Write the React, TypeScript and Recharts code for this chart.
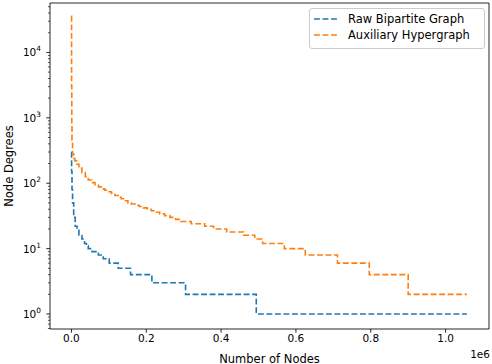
import React from 'react';
import { LineChart, Line, XAxis, YAxis, Legend, ReferenceArea } from 'recharts';

// sorted degree sequences, read as step starts (node rank -> degree)
const BLUE_NODES = [0, 500, 1500, 3000, 6000, 10000, 15000, 20000, 28000, 35000, 40000, 45000, 55000, 72000, 85000, 101000, 125000, 158000, 215000, 305000, 494000, 1057000];
const BLUE_DEGREES = [300, 150, 80, 50, 30, 22, 19, 16, 14, 12, 11, 10, 9, 8, 7, 6, 5, 4, 3, 2, 1, 1];

const ORANGE_NODES = [0, 400, 1000, 1500, 3000, 6000, 9000, 14000, 20000, 28000, 37000, 45000, 54000, 63000, 72000, 80000, 89000, 98000, 107000, 116000, 125000, 133000, 142000,
  151000, 160000, 170000, 181000, 192000, 203000, 213000, 224000, 236000, 249000, 263000, 278000, 292000, 320000, 356000, 380000, 415000, 460000, 490000,
  511000, 569000, 625000, 711000, 796000, 900000, 1057000];
const ORANGE_DEGREES = [36000, 3000, 800, 457, 280, 240, 220, 195, 170, 145, 126, 112, 102, 94, 88, 82, 78, 74, 70, 65, 61, 58, 54,
  50, 48, 46, 44, 42, 40, 38, 36, 34, 32, 30, 28, 26, 24, 22, 20, 18, 16, 14,
  12, 10, 8, 6, 4, 2, 2];

const X_TICKS = [0, 200000, 400000, 600000, 800000, 1000000];
const Y_MAJOR_TICKS = [1, 10, 100, 1000, 10000];
const Y_MINOR_TICKS = [0.6, 0.7, 0.8, 0.9, 2, 3, 4, 5, 6, 7, 8, 9, 20, 30, 40, 50, 60, 70, 80, 90,
  200, 300, 400, 500, 600, 700, 800, 900, 2000, 3000, 4000, 5000, 6000, 7000, 8000, 9000,
  20000, 30000, 40000, 50000];

const SERIES = [
  { name: 'Raw Bipartite Graph', color: '#1f77b4' },
  { name: 'Auxiliary Hypergraph', color: '#ff7f0e' },
];

const blueData = BLUE_NODES.map((x, i) => ({ x, y: BLUE_DEGREES[i] }));
const orangeData = ORANGE_NODES.map((x, i) => ({ x, y: ORANGE_DEGREES[i] }));

const FONT = '"DejaVu Sans", sans-serif';
const TICK_FS = 10.5;
const LABEL_FS = 11.5;
const PLOT_LEFT = 50;
const X_DOMAIN = [-57300, 1116000];
const Y_DOMAIN = [0.59, 57000];
const DASH = '5.9 2.6';

const YTick = (props: any) => {
  const { y, payload } = props;
  const v = payload.value;
  const exp = Math.round(Math.log10(v));
  const major = Y_MAJOR_TICKS.includes(v);
  return (
    <g>
      <line x1={PLOT_LEFT - (major ? 3.7 : 2.1)} x2={PLOT_LEFT} y1={y} y2={y} stroke="#000" strokeWidth={major ? 0.85 : 0.65} />
      {major && (
        <text x={PLOT_LEFT - 9} y={y + 4} textAnchor="end" fontSize={TICK_FS} fontFamily={FONT} fill="#000">
          <tspan>10</tspan>
          <tspan dy={-5} fontSize={TICK_FS * 0.7}>{exp}</tspan>
        </text>
      )}
    </g>
  );
};

const renderLegend = () => (
  <div style={{
    border: '1px solid #cccccc', borderRadius: 3, background: 'rgba(255,255,255,0.8)',
    padding: '2px 0 5px 4px', fontFamily: FONT, fontSize: LABEL_FS, color: '#000',
  }}>
    {SERIES.map(s => (
      <div key={s.name} style={{ display: 'flex', alignItems: 'center', height: 16 }}>
        <svg width={24} height={4}>
          <line x1={0} y1={2} x2={24} y2={2} stroke={s.color} strokeWidth={1.6} strokeDasharray={DASH} />
        </svg>
        <span style={{ marginLeft: 10, whiteSpace: 'nowrap' }}>{s.name}</span>
      </div>
    ))}
  </div>
);

export default function App() {
  return (
    <div style={{ position: 'absolute', left: 0, top: 0, width: 492, height: 364, background: '#fff' }}>
      <LineChart width={492} height={364} margin={{ top: 3, right: 3, left: 0, bottom: 0 }}>
        <XAxis
          type="number" dataKey="x" domain={X_DOMAIN} allowDataOverflow ticks={X_TICKS} interval={0}
          height={35} axisLine={false} tickSize={3.7} tickMargin={2}
          tickLine={{ stroke: '#000', strokeWidth: 0.85 }}
          tick={{ fill: '#000', fontSize: TICK_FS, fontFamily: FONT }}
          tickFormatter={(v: number) => (v / 1e6).toFixed(1)}
          label={{
            content: () => (
              <g>
                <text x={269.5} y={362.5} textAnchor="middle" fontSize={LABEL_FS} fontFamily={FONT} fill="#000">Number of Nodes</text>
                <text x={490} y={358} textAnchor="end" fontSize={TICK_FS} fontFamily={FONT} fill="#000">1e6</text>
              </g>
            ),
          }}
        />
        <YAxis
          scale="log" type="number" domain={Y_DOMAIN} allowDataOverflow
          ticks={[...Y_MINOR_TICKS, ...Y_MAJOR_TICKS]} interval={0}
          width={50} axisLine={false} tickLine={false} tick={<YTick />}
          label={{
            content: () => (
              <text x={0} y={0} transform="translate(13,166) rotate(-90)" textAnchor="middle"
                fontSize={LABEL_FS} fontFamily={FONT} fill="#000">Node Degrees</text>
            ),
          }}
        />
        <ReferenceArea x1={X_DOMAIN[0]} x2={X_DOMAIN[1]} y1={Y_DOMAIN[0]} y2={Y_DOMAIN[1]}
          fill="none" fillOpacity={0} stroke="#000" strokeWidth={0.85} strokeOpacity={1} />
        <Line data={blueData} dataKey="y" name={SERIES[0].name} type="stepAfter" stroke={SERIES[0].color}
          strokeWidth={1.6} strokeDasharray={DASH} dot={false} activeDot={false} isAnimationActive={false} />
        <Line data={orangeData} dataKey="y" name={SERIES[1].name} type="stepAfter" stroke={SERIES[1].color}
          strokeWidth={1.6} strokeDasharray={DASH} dot={false} activeDot={false} isAnimationActive={false} />
        <Legend layout="vertical" align="center" verticalAlign="middle" content={renderLegend}
          wrapperStyle={{ position: 'absolute', left: 309, top: 8, width: 176, height: 'auto' }} />
      </LineChart>
    </div>
  );
}
